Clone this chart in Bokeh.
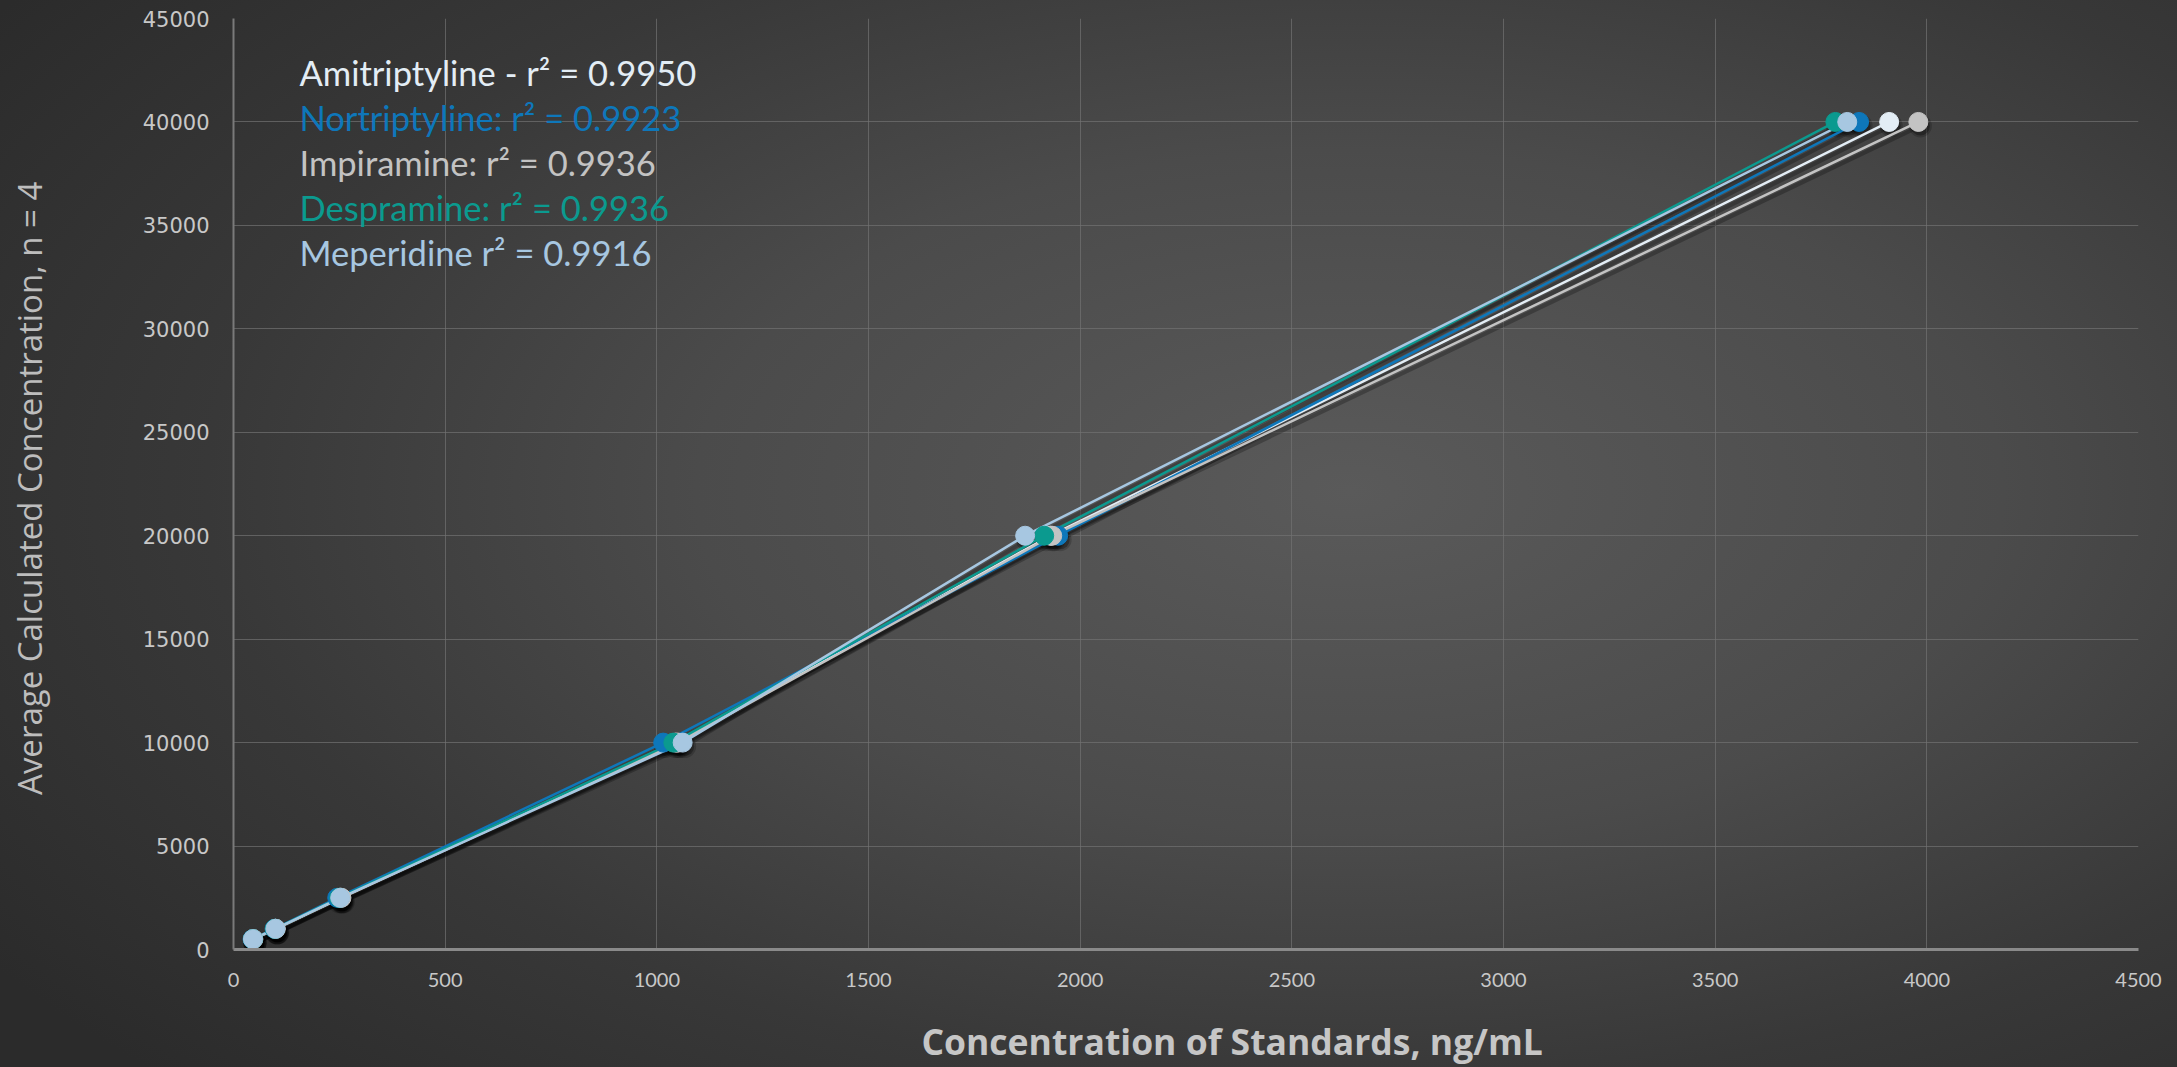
import math
from bokeh.plotting import figure
from bokeh.models import Label, Range1d, SingleIntervalTicker, GlobalInlineStyleSheet, NumeralTickFormatter
from bokeh.embed import file_html
from bokeh.resources import INLINE

# ---- data ----
nominal = [500, 1000, 2500, 10000, 20000, 40000]
amitriptyline = [46, 99, 252, 1045, 1930, 3911]
nortriptyline = [45, 97, 245, 1015, 1948, 3840]
impiramine = [47, 100, 255, 1050, 1934, 3980]
despramine = [46, 98, 250, 1039, 1915, 3784]
meperidine = [46, 99, 252, 1061, 1870, 3812]

series_names = ["Amitriptyline", "Nortriptyline", "Impiramine", "Despramine", "Meperidine"]
series_x = [amitriptyline, nortriptyline, impiramine, despramine, meperidine]
series_colors = ["#e3edf5", "#0e77ba", "#c3c3c3", "#0b9a8f", "#a7c7e1"]
legend_texts = [
    "Amitriptyline - r\u00b2 = 0.9950",
    "Nortriptyline: r\u00b2  = 0.9923",
    "Impiramine: r\u00b2  = 0.9936",
    "Despramine: r\u00b2  = 0.9936",
    "Meperidine r\u00b2  = 0.9916",
]
x_title = "Concentration of Standards, ng/mL"
y_title = "Average Calculated Concentration, n = 4"

W, H = 2177, 1067
FL, FR, FT, FB = 233, 39, 18, 117
XMAX, YMAX = 4500, 45000

p = figure(width=W, height=H, output_backend="svg", toolbar_location=None,
           x_range=Range1d(0, XMAX), y_range=Range1d(0, YMAX),
           min_border_left=FL, min_border_right=FR, min_border_top=FT, min_border_bottom=FB)
p.border_fill_alpha = 0
p.background_fill_alpha = 0
p.outline_line_color = None

css = """
html { min-height: 100%;
  background: radial-gradient(ellipse 75% 80% at 62% 46%, #5a5a5a 0%, #4b4b4b 40%, #383838 70%, #2b2b2b 100%) no-repeat;
  background-size: 100% 100%; }
body { background: transparent; margin: 0; }
"""
p.stylesheets = [GlobalInlineStyleSheet(css=css)]

# axes
p.xaxis.ticker = SingleIntervalTicker(interval=500)
p.yaxis.ticker = SingleIntervalTicker(interval=5000)
p.yaxis.formatter = NumeralTickFormatter(format="0")
for ax in (p.xaxis[0], p.yaxis[0]):
    ax.major_tick_line_color = None
    ax.minor_tick_line_color = None
    ax.major_label_text_color = "#c8c8c8"
p.xaxis.major_label_text_font = "Lato"
p.xaxis.major_label_text_font_size = "20px"
p.yaxis.major_label_text_font = "DejaVu Sans"
p.yaxis.major_label_text_font_size = "21px"
p.yaxis.axis_line_color = "#7a7a7a"
p.yaxis.axis_line_width = 2
p.xaxis.axis_line_color = "#8a8a8a"
p.xaxis.axis_line_width = 3
p.yaxis.major_label_standoff = 18
p.xaxis.major_label_standoff = 17

p.yaxis.axis_label = y_title + "\u00a0"
p.yaxis.axis_label_text_font = "Open Sans"
p.yaxis.axis_label_text_font_style = "normal"
p.yaxis.axis_label_text_font_size = "33px"
p.yaxis.axis_label_text_color = "#bdbdbd"
p.yaxis.axis_label_standoff = 88
# the reference title sits right of the frame centre: pad it on the left
p.xaxis.axis_label = "\u00a0" * 10 + x_title
p.xaxis.axis_label_text_font = "Open Sans"
p.xaxis.axis_label_text_font_style = "bold"
p.xaxis.axis_label_text_font_size = "35.5px"
p.xaxis.axis_label_text_color = "#c6c6c6"
p.xaxis.axis_label_standoff = 27

p.xgrid.grid_line_color = "#727272"
p.ygrid.grid_line_color = "#727272"
p.xgrid.grid_line_alpha = 0.7
p.ygrid.grid_line_alpha = 0.7

frame_w = W - FL - FR
frame_h = H - FT - FB

# shadow offsets (converted from pixels into data units through the frame size)
dx = 2 * XMAX / frame_w
dy = 4 * YMAX / frame_h

for xs in series_x:
    sx = [v + dx for v in xs]
    sy = [v - dy for v in nominal]
    p.line(sx, sy, line_color="black", line_alpha=0.25, line_width=4)
    p.scatter(sx, sy, size=23, fill_color="black", fill_alpha=0.18, line_color=None)
    p.scatter(sx, sy, size=19, fill_color="black", fill_alpha=0.3, line_color=None)

for xs, c in zip(series_x, series_colors):
    p.line(xs, nominal, line_color=c, line_width=2.5)
for xs, c in zip(series_x, series_colors):
    p.scatter(xs, nominal, size=19, fill_color=c, line_color=c, line_width=1)

# legend texts (screen pixels relative to the frame)
for i, (t, c) in enumerate(zip(legend_texts, series_colors)):
    base = 73 + 45 * i
    p.add_layout(Label(x=66, y=frame_h - (base - FT), x_units="screen", y_units="screen",
                       text=t, text_color=c, text_font="Lato", text_font_size="34.5px",
                       text_baseline="alphabetic"))

open("out.html", "w").write(file_html(p, INLINE))
